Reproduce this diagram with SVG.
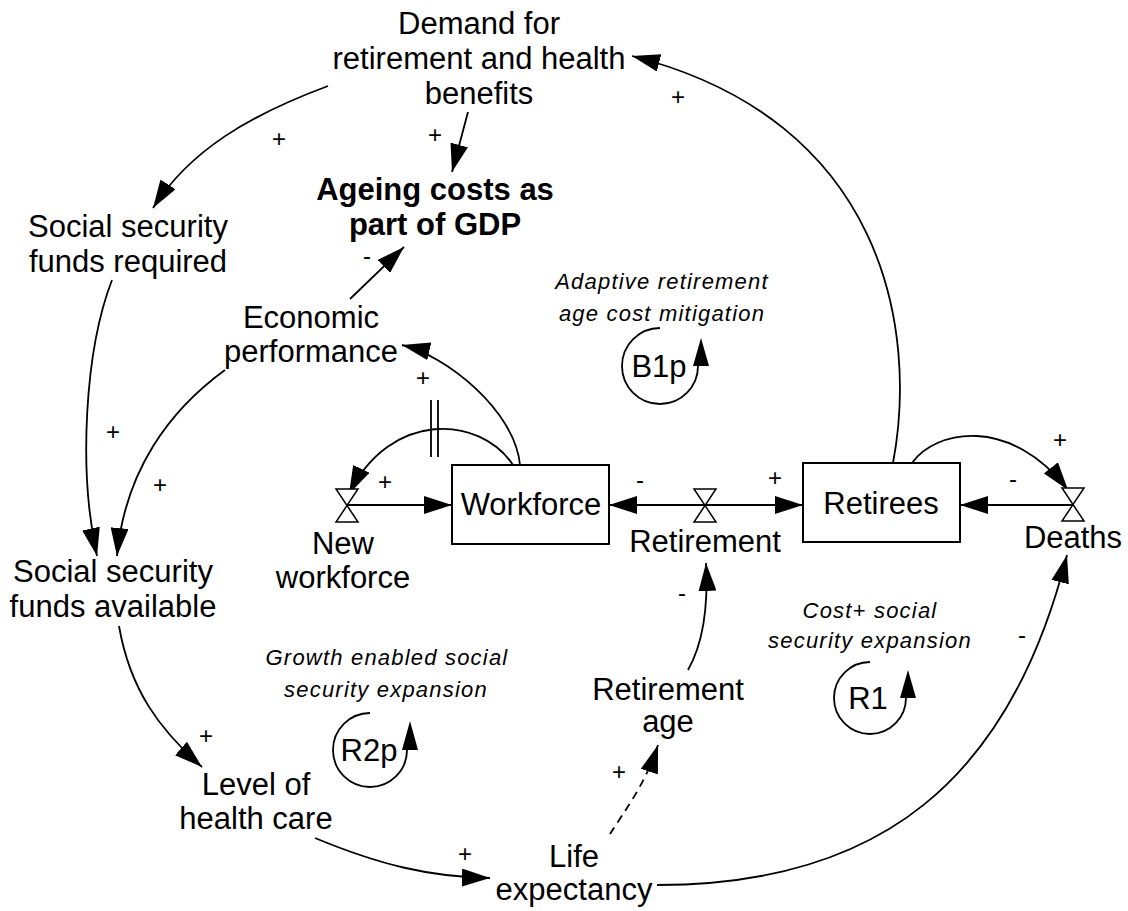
<svg xmlns="http://www.w3.org/2000/svg" width="1128" height="911" viewBox="0 0 1128 911">
<style>
text{font-family:"Liberation Sans",Arial,sans-serif;fill:#000}
.t{font-size:31px;text-anchor:middle}
.b{font-size:31px;font-weight:bold;text-anchor:middle}
.i{font-size:22px;font-style:italic;text-anchor:middle;letter-spacing:1.2px}
.s{font-size:24px;text-anchor:middle}
.c{fill:none;stroke:#000;stroke-width:1.8}
.d{stroke-dasharray:8 6}
.box{fill:#fff;stroke:#000;stroke-width:2}
.valve{fill:#fff;stroke:#000;stroke-width:1.5}
</style>
<defs>
<marker id="ah" markerUnits="userSpaceOnUse" markerWidth="28" markerHeight="18" refX="28" refY="9" orient="auto" viewBox="0 0 28 18"><path d="M0,0 L28,9 L0,18 z" fill="#000"/></marker>
</defs>
<rect width="1128" height="911" fill="#fff"/>
<g id="connectors">
<path class="c" d="M893,463 C918,330 885,120 632,56" marker-end="url(#ah)"/>
<path class="c" d="M328,86 C250,115 190,150 153,208" marker-end="url(#ah)"/>
<path class="c" d="M468,112 L452,172" marker-end="url(#ah)"/>
<path class="c" d="M350,299 L404,247" marker-end="url(#ah)"/>
<path class="c" d="M112,280 C85,350 78,470 97,556" marker-end="url(#ah)"/>
<path class="c" d="M225,370 C170,410 125,470 117,556" marker-end="url(#ah)"/>
<path class="c" d="M119,626 C130,690 160,730 202,767" marker-end="url(#ah)"/>
<path class="c" d="M315,838 C380,865 430,877 490,878" marker-end="url(#ah)"/>
<path class="c" d="M657,885 C880,885 1010,780 1067,555" marker-end="url(#ah)"/>
<path class="c d" d="M610,834 C625,810 645,785 658,745" marker-end="url(#ah)"/>
<path class="c" d="M688,670 C705,640 708,600 706,563" marker-end="url(#ah)"/>
<path class="c" d="M520,465 C515,410 445,355 402,345" marker-end="url(#ah)"/>
<path class="c" d="M513,465 C480,415 390,410 349,494" marker-end="url(#ah)"/>
<path class="c" d="M431,400 L431,457 M438,400 L438,457"/>
<path class="c" d="M912,463 C935,430 1010,415 1068,490" marker-end="url(#ah)"/>
<path class="c" d="M347,505 L452,505" marker-end="url(#ah)"/>
<path class="c" d="M705,505 L609,505" marker-end="url(#ah)"/>
<path class="c" d="M705,505 L803,505" marker-end="url(#ah)"/>
<path class="c" d="M1073,505 L960,505" marker-end="url(#ah)"/>
</g>
<g id="signs">
<text class="s" x="279" y="147">+</text>
<text class="s" x="435" y="143">+</text>
<text class="s" x="678" y="105">+</text>
<text class="s" x="367" y="264">-</text>
<text class="s" x="423" y="386">+</text>
<text class="s" x="385" y="490">+</text>
<text class="s" x="640" y="488">-</text>
<text class="s" x="775" y="486">+</text>
<text class="s" x="1060" y="448">+</text>
<text class="s" x="1013" y="487">-</text>
<text class="s" x="113" y="440">+</text>
<text class="s" x="160" y="493">+</text>
<text class="s" x="206" y="744">+</text>
<text class="s" x="465" y="862">+</text>
<text class="s" x="619" y="780">+</text>
<text class="s" x="682" y="601">-</text>
<text class="s" x="1022" y="643">-</text>
</g>
<g id="demand"><text class="t" x="479" y="34">Demand for</text><text class="t" x="479" y="69">retirement and health</text><text class="t" x="479" y="104">benefits</text></g>
<g id="ageing"><text class="b" x="435" y="200">Ageing costs as</text><text class="b" x="435" y="235">part of GDP</text></g>
<g id="ssfr"><text class="t" x="128" y="237">Social security</text><text class="t" x="128" y="272">funds required</text></g>
<g id="economic"><text class="t" x="311" y="328">Economic</text><text class="t" x="311" y="362">performance</text></g>
<g id="ssfa"><text class="t" x="113" y="582">Social security</text><text class="t" x="113" y="617">funds available</text></g>
<g id="health"><text class="t" x="256" y="795">Level of</text><text class="t" x="256" y="829">health care</text></g>
<g id="life"><text class="t" x="574" y="867">Life</text><text class="t" x="574" y="900">expectancy</text></g>
<g id="retage"><text class="t" x="668" y="700">Retirement</text><text class="t" x="668" y="732">age</text></g>
<g id="workforce"><rect class="box" x="452" y="465" width="157" height="79"/><text class="t" x="531" y="515">Workforce</text></g>
<g id="retirees"><rect class="box" x="803" y="463" width="157" height="79"/><text class="t" x="881" y="514">Retirees</text></g>
<g id="newworkforce"><path class="valve" d="M336,489 L358,489 L336,522 L358,522 Z"/><text class="t" x="343" y="554">New</text><text class="t" x="343" y="588">workforce</text></g>
<g id="retirement"><path class="valve" d="M694,489 L716,489 L694,522 L716,522 Z"/><text class="t" x="705" y="552">Retirement</text></g>
<g id="deaths"><path class="valve" d="M1062,488 L1084,488 L1062,521 L1084,521 Z"/><text class="t" x="1073" y="548">Deaths</text></g>
<g id="loopB1p"><text class="i" x="662" y="289">Adaptive retirement</text><text class="i" x="662" y="321">age cost mitigation</text>
<path class="c" d="M660,328 A38,38 0 1 0 698,366"/><path d="M693,366 L701,338 L709,366 Z"/><text class="t" x="659" y="377">B1p</text></g>
<g id="loopR2p"><text class="i" x="387" y="665">Growth enabled social</text><text class="i" x="386" y="697">security expansion</text>
<path class="c" d="M370,713 A37,37 0 1 0 407,750"/><path d="M402,750 L410,721 L418,750 Z"/><text class="t" x="369" y="761">R2p</text></g>
<g id="loopR1"><text class="i" x="870" y="618">Cost+ social</text><text class="i" x="870" y="648">security expansion</text>
<path class="c" d="M870,662 A36,36 0 1 0 906,698"/><path d="M900,698 L908,670 L916,698 Z"/><text class="t" x="868" y="709">R1</text></g>
</svg>
